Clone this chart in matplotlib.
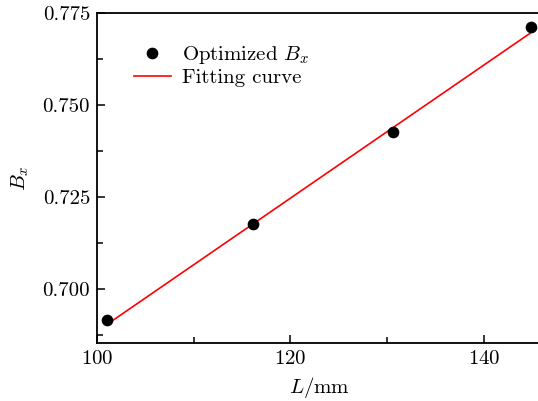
import matplotlib
matplotlib.use('Agg')
import matplotlib.pyplot as plt
from matplotlib.ticker import FormatStrFormatter, MultipleLocator

# computer modern look
plt.rcParams.update({
    'font.family': 'serif',
    'font.serif': ['cmr10', 'DejaVu Serif'],
    'mathtext.fontset': 'cm',
    'axes.formatter.use_mathtext': True,
    'font.size': 15,
})

# data
length_mm = [101.0, 116.1, 130.6, 144.85]
bx_opt = [0.6914, 0.7176, 0.7426, 0.7713]
fit_x = [101.1, 144.85]
fit_y = [0.6904, 0.7696]

W, H = 538, 401
fig = plt.figure(figsize=(W / 100, H / 100), dpi=100)
ax = fig.add_axes([97 / W, (H - 343) / H, (541.8 - 97) / W, (343 - 13) / H])

ax.plot(length_mm, bx_opt, 'o', color='black', markersize=7.4,
        label=r'Optimized $B_x$', zorder=3)
ax.plot(fit_x, fit_y, '-', color='red', linewidth=1.2, label='Fitting curve')

ax.set_xlim(100, 146)
ax.set_ylim(0.68522, 0.775)
ax.set_xticks([100, 120, 140])
ax.xaxis.set_minor_locator(MultipleLocator(10))
ax.set_yticks([0.700, 0.725, 0.750, 0.775])
ax.yaxis.set_minor_locator(MultipleLocator(0.0125))
ax.yaxis.set_major_formatter(FormatStrFormatter('%.3f'))
ax.tick_params(which='both', direction='in', width=1.1)
ax.tick_params(which='major', length=6, pad=5)
ax.tick_params(which='minor', length=4)
for sp in ax.spines.values():
    sp.set_linewidth(1.3)

ax.set_xlabel(r'$L/\mathrm{mm}$', labelpad=5)
ax.set_ylabel(r'$B_x$', labelpad=8)

ax.legend(loc='upper left', bbox_to_anchor=(0.065, 0.93), frameon=False,
          fontsize=15, handlelength=1.75, handletextpad=0.55, labelspacing=0.1,
          borderaxespad=0.0)

fig.savefig('out.png', dpi=100)
